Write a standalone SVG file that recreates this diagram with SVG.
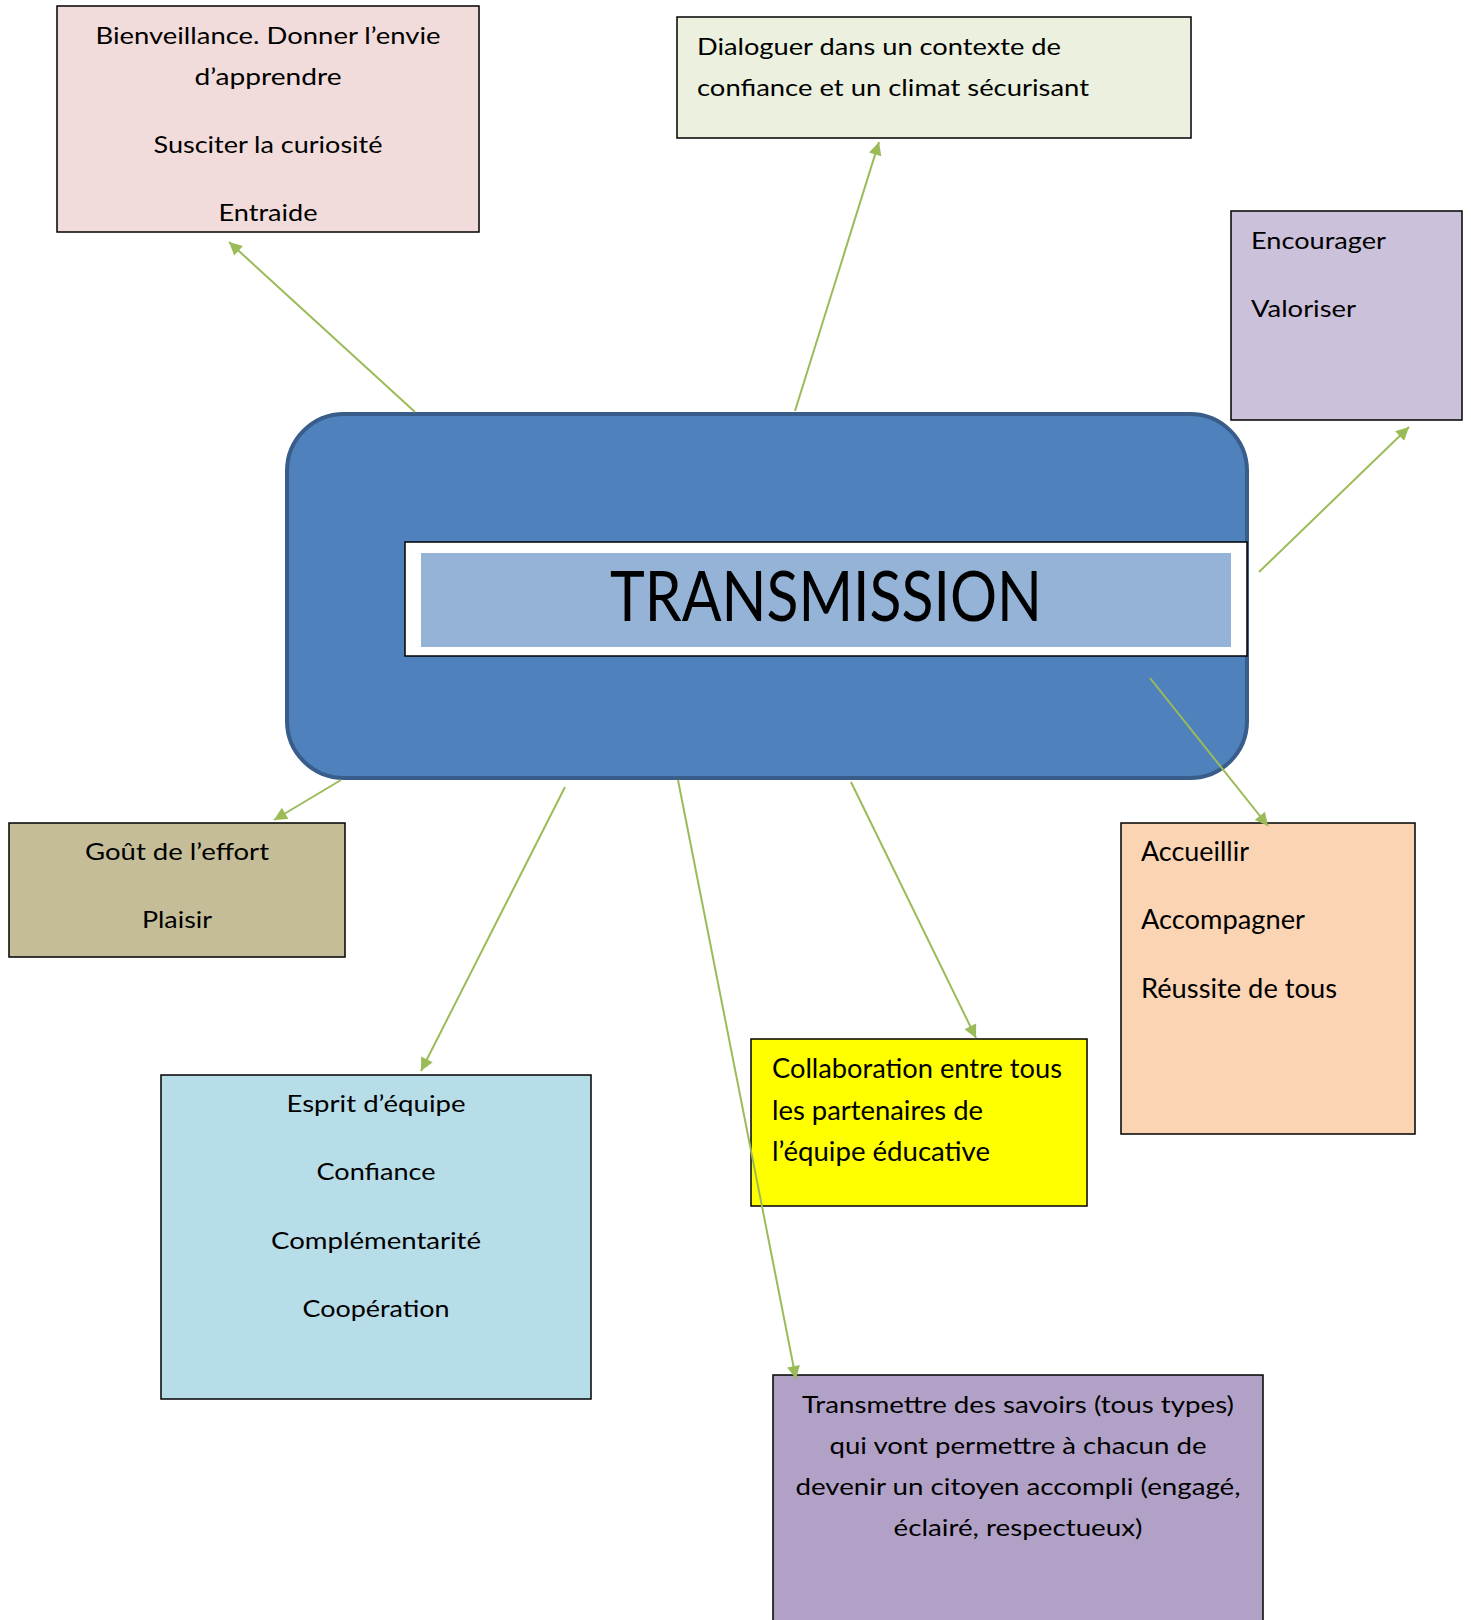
<svg xmlns="http://www.w3.org/2000/svg" width="1471" height="1620" viewBox="0 0 1471 1620">
<style>
.box{stroke:#000;stroke-width:1.5}
.t{font-family:Lato,"Open Sans","DejaVu Sans",sans-serif;font-size:24px;fill:#000}
.c{text-anchor:middle}
.cn{font-size:26px}
.con{stroke:#9BBB59;stroke-width:2;fill:none;marker-end:url(#ah)}
</style>
<defs>
<marker id="ah" viewBox="0 0 10 10" refX="10" refY="5" markerWidth="15" markerHeight="13" markerUnits="userSpaceOnUse" orient="auto">
<path d="M0,0 L10,5 L0,10 z" fill="#9BBB59"/>
</marker>
</defs>
<rect width="1471" height="1620" fill="#fff"/>

<g id="node-bienveillance">
<rect class="box" x="57" y="6" width="422" height="226" fill="#F2DCDB"/>
<text class="t c" x="268" y="44" textLength="345" lengthAdjust="spacingAndGlyphs">Bienveillance. Donner l’envie</text>
<text class="t c" x="268" y="85" textLength="147" lengthAdjust="spacingAndGlyphs">d’apprendre</text>
<text class="t c" x="268" y="153" textLength="229" lengthAdjust="spacingAndGlyphs">Susciter la curiosité</text>
<text class="t c" x="268" y="221" textLength="99" lengthAdjust="spacingAndGlyphs">Entraide</text>
</g>

<g id="node-dialoguer">
<rect class="box" x="677" y="17" width="514" height="121" fill="#EBF1DE"/>
<text class="t" x="697" y="55" textLength="364" lengthAdjust="spacingAndGlyphs">Dialoguer dans un contexte de</text>
<text class="t" x="697" y="96" textLength="392" lengthAdjust="spacingAndGlyphs">confiance et un climat sécurisant</text>
</g>

<g id="node-encourager">
<rect class="box" x="1231" y="211" width="231" height="209" fill="#CCC1DA"/>
<text class="t" x="1251" y="249" textLength="135" lengthAdjust="spacingAndGlyphs">Encourager</text>
<text class="t" x="1251" y="317" textLength="105" lengthAdjust="spacingAndGlyphs">Valoriser</text>
</g>

<g id="node-transmission">
<rect x="287" y="414" width="960" height="364" rx="57" ry="57" fill="#4F81BD" stroke="#385D8A" stroke-width="4"/>
<rect x="405" y="542" width="842" height="114" fill="#fff" stroke="#000" stroke-width="1.5"/>
<rect x="421" y="553" width="810" height="94" fill="#95B3D7"/>
<text class="t c" x="826" y="621" style="font-size:69px" textLength="432" lengthAdjust="spacingAndGlyphs">TRANSMISSION</text>
</g>

<g id="node-gout">
<rect class="box" x="9" y="823" width="336" height="134" fill="#C4BD97"/>
<text class="t c" x="177" y="860" textLength="184" lengthAdjust="spacingAndGlyphs">Goût de l’effort</text>
<text class="t c" x="177" y="928" textLength="70" lengthAdjust="spacingAndGlyphs">Plaisir</text>
</g>

<g id="node-esprit">
<rect class="box" x="161" y="1075" width="430" height="324" fill="#B7DDE8"/>
<text class="t c" x="376" y="1112" textLength="179" lengthAdjust="spacingAndGlyphs">Esprit d’équipe</text>
<text class="t c" x="376" y="1180" textLength="119" lengthAdjust="spacingAndGlyphs">Confiance</text>
<text class="t c" x="376" y="1249" textLength="210" lengthAdjust="spacingAndGlyphs">Complémentarité</text>
<text class="t c" x="376" y="1317" textLength="147" lengthAdjust="spacingAndGlyphs">Coopération</text>
</g>

<g id="node-collaboration">
<rect class="box" x="751" y="1039" width="336" height="167" fill="#FFFF00"/>
<text class="t cn" x="772" y="1078" textLength="290" lengthAdjust="spacingAndGlyphs">Collaboration entre tous</text>
<text class="t cn" x="772" y="1120" textLength="211" lengthAdjust="spacingAndGlyphs">les partenaires de</text>
<text class="t cn" x="772" y="1161" textLength="218" lengthAdjust="spacingAndGlyphs">l’équipe éducative</text>
</g>

<g id="node-accueillir">
<rect class="box" x="1121" y="823" width="294" height="311" fill="#FBD4B4"/>
<text class="t cn" x="1141" y="861" textLength="108" lengthAdjust="spacingAndGlyphs">Accueillir</text>
<text class="t cn" x="1141" y="929" textLength="164" lengthAdjust="spacingAndGlyphs">Accompagner</text>
<text class="t cn" x="1141" y="998" textLength="196" lengthAdjust="spacingAndGlyphs">Réussite de tous</text>
</g>

<g id="node-transmettre">
<rect class="box" x="773" y="1375" width="490" height="260" fill="#B2A1C7"/>
<text class="t c" x="1018" y="1413" textLength="432" lengthAdjust="spacingAndGlyphs">Transmettre des savoirs (tous types)</text>
<text class="t c" x="1018" y="1454" textLength="377" lengthAdjust="spacingAndGlyphs">qui vont permettre à chacun de</text>
<text class="t c" x="1018" y="1495" textLength="445" lengthAdjust="spacingAndGlyphs">devenir un citoyen accompli (engagé,</text>
<text class="t c" x="1018" y="1536" textLength="249" lengthAdjust="spacingAndGlyphs">éclairé, respectueux)</text>
</g>

<g id="connectors">
<line class="con" x1="415" y1="412" x2="229" y2="242"/>
<line class="con" x1="795" y1="411" x2="879" y2="142"/>
<line class="con" x1="1259" y1="572" x2="1409" y2="427"/>
<line class="con" x1="1150" y1="678" x2="1268" y2="826"/>
<line class="con" x1="341" y1="780" x2="274" y2="820"/>
<line class="con" x1="565" y1="787" x2="421" y2="1071"/>
<line class="con" x1="678" y1="780" x2="796" y2="1379"/>
<line class="con" x1="851" y1="782" x2="976" y2="1038"/>
</g>
</svg>
